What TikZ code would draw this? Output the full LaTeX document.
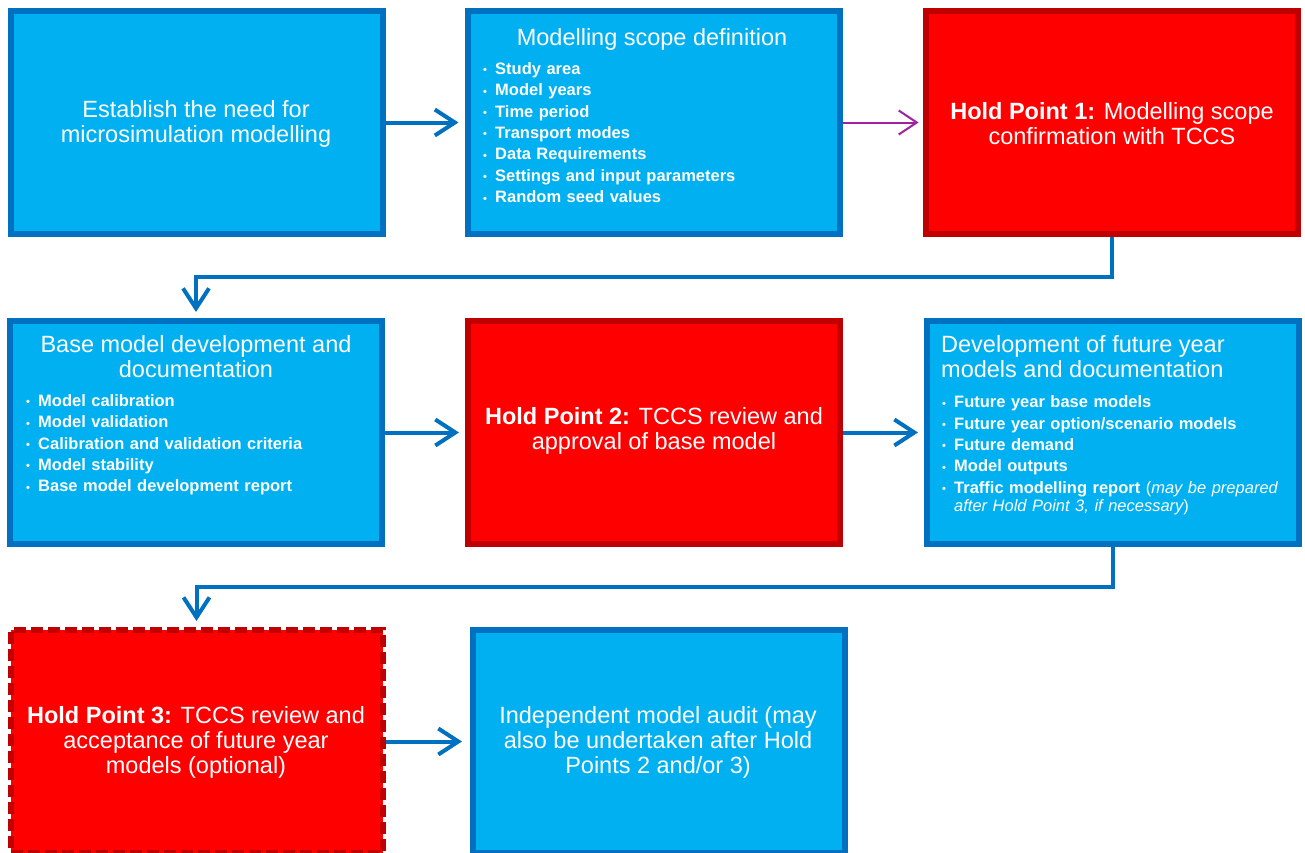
\documentclass[tikz,border=0pt]{standalone}
\usepackage{fontspec}
\setmainfont{Liberation Sans}
\usetikzlibrary{arrows.meta,calc}
\definecolor{bfill}{HTML}{00B0F0}
\definecolor{bdraw}{HTML}{0070C0}
\definecolor{rfill}{HTML}{FF0000}
\definecolor{rdraw}{HTML}{C00000}
\definecolor{parrow}{RGB}{160,32,160}
\newcommand{\bl}[1]{\par\noindent\hangindent=12pt\hangafter=1\makebox[12pt][l]{\raisebox{0.5pt}{\fontsize{11}{11}\selectfont\textbullet}}#1}
\tikzset{
  x=1pt,y=-1pt,
  box/.style={rectangle, line width=6pt, minimum width=372pt, minimum height=223pt, inner sep=0pt},
  bluebox/.style={box, draw=bdraw, fill=bfill},
  redbox/.style={box, draw=rdraw, fill=rfill},
  dashbox/.style={box, draw=rdraw, fill=rfill, dash pattern=on 12pt off 5pt},
  title/.style={text=white, inner sep=0pt, font=\fontsize{23.5}{25}\selectfont, align=center},
  list/.style={text=white, inner sep=0pt, font=\fontsize{16.5}{21.4}\selectfont\bfseries, align=left, anchor=north west, text width=365pt},
  flow/.style={draw=bdraw, line width=4pt, -{Straight Barb[length=20pt,width=26pt,line width=4pt]}},
  pflow/.style={draw=parrow, line width=2pt, -{Straight Barb[length=18pt,width=24pt,line width=2pt]}},
}
\begin{document}
\begin{tikzpicture}
\useasboundingbox (0,0) rectangle (1305,852);
\clip (0,0) rectangle (1305,852);
% row 1
\node[bluebox] (b1) at (196.5,122.5) {};
\node[bluebox] (b2) at (653.5,122.5) {};
\node[redbox]  (b3) at (1111.5,122.5) {};
% row 2
\node[bluebox] (b4) at (196,432.5) {};
\node[redbox]  (b5) at (654,432.5) {};
\node[bluebox] (b6) at (1113,432.5) {};
% row 3
\node[dashbox] (b7) at (196.5,741.5) {};
\node[bluebox] (b8) at (659,741.5) {};

% texts
\node[title] (t1) at (196,124) {Establish the need for\\microsimulation modelling};
\node[title, anchor=north] (t2) at (652,28) {Modelling scope definition};
\node[list] (l2) at (483,52.6) {\bl{Study area}\bl{Model years}\bl{Time period}\bl{Transport modes}\bl{Data Requirements}\bl{Settings and input parameters}\bl{Random seed values}};
\node[title] (t3) at (1112,124) {\textbf{Hold Point 1:} Modelling scope\\confirmation with TCCS};

\node[title, anchor=north] (t4) at (196,335) {Base model development and\\documentation};
\node[list] (l4) at (26,384.6) {\bl{Model calibration}\bl{Model validation}\bl{Calibration and validation criteria}\bl{Model stability}\bl{Base model development report}};
\node[title] (t5) at (654,431) {\textbf{Hold Point 2:} TCCS review and\\approval of base model};
\node[title, anchor=north west, align=left] (t6) at (941,335) {Development of future year\\models and documentation};
\node[list] (l6) at (942,386) {\bl{Future year base models}\bl{Future year option/scenario models}\bl{Future demand}\bl{Model outputs}\bl{Traffic modelling report {\mdseries(\itshape may be prepared}}\par\vspace{-3.5pt}\noindent\hspace*{12pt}{\mdseries\itshape after Hold Point 3, if necessary\upshape)}};

\node[title] (t7) at (196,742.5) {\textbf{Hold Point 3:} TCCS review and\\acceptance of future year\\models (optional)};
\node[title] (t8) at (658,742.5) {Independent model audit (may\\also be undertaken after Hold\\Points 2 and/or 3)};

% connectors
\draw[flow, shorten >=6pt] (b1.east) -- (b2.west);
\draw[pflow, shorten >=4pt] (b2.east) -- (b3.west);
\coordinate (c1) at (1111.5,277);
\draw[flow, shorten >=6pt] (b3.south) -- (c1) -| (b4.north);
\draw[flow, shorten >=6pt] (b4.east) -- (b5.west);
\draw[flow, shorten >=6pt] (b5.east) -- (b6.west);
\coordinate (c2) at (1113,587);
\draw[flow, shorten >=6pt] (b6.south) -- (c2) -| (b7.north);
\draw[flow, shorten >=8pt] (b7.east) -- (b8.west);
\end{tikzpicture}
\end{document}
